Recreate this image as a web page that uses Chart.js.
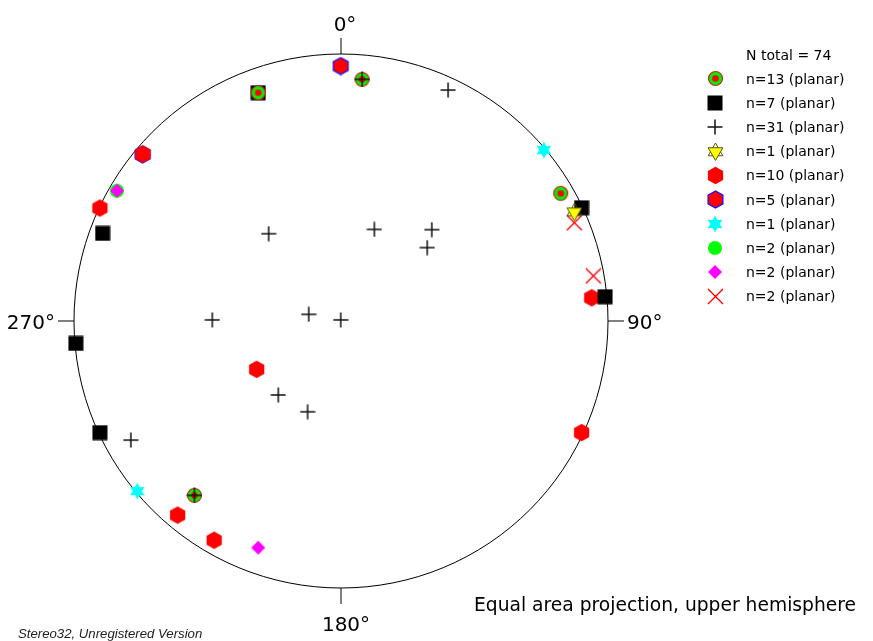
<!DOCTYPE html>
<html>
<head>
<meta charset="utf-8">
<script src="https://cdn.jsdelivr.net/npm/chart.js@4/dist/chart.umd.min.js"></script>
<style>
html,body{margin:0;padding:0;background:#fff;}
#wrap{width:873px;height:641px;position:relative;}
</style>
</head>
<body>
<div id="wrap"><canvas id="c" width="873" height="641"></canvas></div>
<script>
// ---- data: positions on the unit projection circle (x = east, y = north) ----
const legendTitle = "N total = 74";
const seriesLabels = ["n=13 (planar)","n=7 (planar)","n=31 (planar)","n=1 (planar)","n=10 (planar)","n=5 (planar)","n=1 (planar)","n=2 (planar)","n=2 (planar)","n=2 (planar)"];
const dirLabels = ["0°","90°","180°","270°"];
const projTitle = "Equal area projection, upper hemisphere";
const footer = "Stereo32, Unregistered Version";

const s13x = [-0.310, 0.079, 0.823, -0.549];
const s13y = [ 0.855, 0.905, 0.478, -0.653];
const s7x  = [-0.310, -0.893, -0.993, -0.903, 0.901, 0.989];
const s7y  = [ 0.855,  0.328, -0.084, -0.418, 0.424, 0.091];
const s31x = [0.401, 0.079, -0.271, 0.125, 0.340, 0.323, -0.482, -0.121, -0.001, -0.235, -0.125, -0.787, -0.549];
const s31y = [0.865, 0.905,  0.327, 0.343, 0.342, 0.275,  0.004,  0.025,  0.004, -0.277, -0.340, -0.446, -0.653];
const s1ax = [0.874];
const s1ay = [0.409];
const s10x = [-0.742, -0.903, -0.316, 0.939, 0.901, -0.612, -0.475];
const s10y = [ 0.625,  0.423, -0.181, 0.087, -0.418, -0.727, -0.821];
const s5x  = [-0.001, -0.743];
const s5y  = [ 0.955,  0.624];
const s1bx = [0.760, -0.763];
const s1by = [0.640, -0.637];
const s2ax = [-0.839];
const s2ay = [ 0.488];
const s2bx = [-0.839, -0.310];
const s2by = [ 0.488, -0.849];
const s2cx = [0.874, 0.945];
const s2cy = [0.368, 0.169];

// ---- marker images ----
function mk(w,h,fn){const c=document.createElement('canvas');c.width=w;c.height=h;const g=c.getContext('2d');fn(g,w/2,h/2);return c;}
function hexPath(g,cx,cy,r){g.beginPath();for(let i=0;i<6;i++){const a=Math.PI/2+i*Math.PI/3;const px=cx+r*Math.cos(a),py=cy-r*Math.sin(a);i?g.lineTo(px,py):g.moveTo(px,py);}g.closePath();}
function triPath(g,cx,cy,r,up){g.beginPath();for(let i=0;i<3;i++){const a=(up?Math.PI/2:-Math.PI/2)+i*2*Math.PI/3;const px=cx+r*Math.cos(a),py=cy-r*Math.sin(a);i?g.lineTo(px,py):g.moveTo(px,py);}g.closePath();}
function starPath(g,cx,cy,ro,ri){g.beginPath();for(let i=0;i<12;i++){const r=i%2?ri:ro;const a=Math.PI/2+i*Math.PI/6;const px=cx+r*Math.cos(a),py=cy-r*Math.sin(a);i?g.lineTo(px,py):g.moveTo(px,py);}g.closePath();}

const imgRing = mk(17,17,(g,cx,cy)=>{g.beginPath();g.arc(cx,cy,7,0,2*Math.PI);g.fillStyle='#00f000';g.fill();g.lineWidth=1.2;g.strokeStyle='#d42020';g.stroke();g.beginPath();g.arc(cx,cy,3.3,0,2*Math.PI);g.fillStyle='#ff0000';g.fill();});
const imgSquare = mk(16,16,(g)=>{g.fillStyle='#000';g.fillRect(0.5,0.5,15,15);});
const imgCross = mk(16,16,(g,cx,cy)=>{g.strokeStyle='#111';g.lineWidth=1.5;g.beginPath();g.moveTo(0.5,cy);g.lineTo(15.5,cy);g.moveTo(cx,0.5);g.lineTo(cx,15.5);g.stroke();});
const imgYellow = mk(19,19,(g,cx,cy)=>{g.lineWidth=1;g.strokeStyle='#555500';triPath(g,cx,cy,8.5,true);g.stroke();triPath(g,cx,cy+0.5,8.5,false);g.fillStyle='#ffff00';g.fill();g.stroke();});
const imgHex = mk(19,19,(g,cx,cy)=>{hexPath(g,cx,cy,8.8);g.fillStyle='#ff0000';g.fill();});
const imgHexB = mk(19,19,(g,cx,cy)=>{hexPath(g,cx,cy,8.6);g.fillStyle='#ff0000';g.fill();g.lineWidth=1.2;g.strokeStyle='#1010ff';g.stroke();});
const imgCyan = mk(18,18,(g,cx,cy)=>{starPath(g,cx,cy,8.5,4.6);g.fillStyle='#00ffff';g.fill();});
const imgGreen = mk(16,16,(g,cx,cy)=>{g.beginPath();g.arc(cx,cy,7,0,2*Math.PI);g.fillStyle='#00ff00';g.fill();});
const imgMag = mk(16,16,(g,cx,cy)=>{g.beginPath();g.moveTo(cx,cy-7);g.lineTo(cx+7,cy);g.lineTo(cx,cy+7);g.lineTo(cx-7,cy);g.closePath();g.fillStyle='#ff00ff';g.fill();});
const imgX = mk(17,17,(g,cx,cy)=>{g.strokeStyle='#ff0000';g.lineWidth=1.4;g.beginPath();g.moveTo(cx-7.5,cy-7.5);g.lineTo(cx+7.5,cy+7.5);g.moveTo(cx+7.5,cy-7.5);g.lineTo(cx-7.5,cy+7.5);g.stroke();});

const pts=(xs,ys)=>xs.map((v,i)=>({x:v,y:ys[i]}));
const series = [
  {xs:s13x,ys:s13y,img:imgRing,order:5},
  {xs:s7x,ys:s7y,img:imgSquare,order:8},
  {xs:s31x,ys:s31y,img:imgCross,order:4},
  {xs:s1ax,ys:s1ay,img:imgYellow,order:1},
  {xs:s10x,ys:s10y,img:imgHex,order:9},
  {xs:s5x,ys:s5y,img:imgHexB,order:10},
  {xs:s1bx,ys:s1by,img:imgCyan,order:3},
  {xs:s2ax,ys:s2ay,img:imgGreen,order:7},
  {xs:s2bx,ys:s2by,img:imgMag,order:6},
  {xs:s2cx,ys:s2cy,img:imgX,order:2}
];

const frame = {
  id:'frame',
  beforeDatasetsDraw(chart){
    const g=chart.ctx, xs=chart.scales.x, ys=chart.scales.y;
    const cx=xs.getPixelForValue(0), cy=ys.getPixelForValue(0), r=xs.getPixelForValue(1)-cx;
    g.save();
    g.strokeStyle='#000';g.lineWidth=1;
    g.beginPath();g.arc(cx,cy,r,0,2*Math.PI);g.stroke();
    const t=16;
    g.beginPath();
    g.moveTo(cx,cy-r);g.lineTo(cx,cy-r-t);
    g.moveTo(cx+r,cy);g.lineTo(cx+r+t,cy);
    g.moveTo(cx,cy+r);g.lineTo(cx,cy+r+t);
    g.moveTo(cx-r,cy);g.lineTo(cx-r-t,cy);
    g.stroke();
    g.fillStyle='#000';
    g.font='20px "DejaVu Sans"';
    g.textBaseline='alphabetic';
    g.textAlign='center';
    g.fillText(dirLabels[0],cx+4,cy-r-t-7);
    g.fillText(dirLabels[2],cx+5,cy+r+t+27);
    g.textAlign='left';
    g.fillText(dirLabels[1],cx+r+t+3,cy+7.5);
    g.textAlign='right';
    g.fillText(dirLabels[3],cx-r-t-3,cy+7.5);
    g.restore();
  },
  afterDraw(chart){
    const g=chart.ctx;
    g.save();
    g.fillStyle='#000';
    g.textBaseline='alphabetic';g.textAlign='left';
    g.font='14px "DejaVu Sans"';
    g.fillText(legendTitle,746,60);
    series.forEach((s,i)=>{
      const y=78.5+i*24.2;
      g.drawImage(s.img,Math.round(715-s.img.width/2),Math.round(y-s.img.height/2));
      g.fillText(seriesLabels[i],746,y+5);
    });
    g.font='18.7px "DejaVu Sans"';
    g.fillText(projTitle,474,611);
    g.font='italic 13.2px "Liberation Sans"';
    g.fillStyle='#222';
    g.fillText(footer,18,638);
    g.restore();
  }
};

new Chart(document.getElementById('c'),{
  type:'scatter',
  data:{datasets:series.map((s,i)=>({
    label:seriesLabels[i],
    data:pts(s.xs,s.ys),
    pointStyle:s.img,
    pointRadius:8,
    pointHoverRadius:8,
    order:s.order,
    clip:false
  }))},
  options:{
    responsive:false,
    animation:false,
    events:[],
    layout:{padding:{left:74,right:265,top:54,bottom:53}},
    scales:{
      x:{type:'linear',min:-1,max:1,display:false},
      y:{type:'linear',min:-1,max:1,display:false}
    },
    plugins:{legend:{display:false},tooltip:{enabled:false}}
  },
  plugins:[frame]
});
</script>
</body>
</html>
